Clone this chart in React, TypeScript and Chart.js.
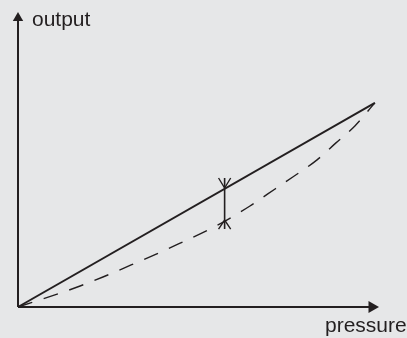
import React, { useEffect, useRef } from "react";
import { Chart, registerables } from "chart.js";
Chart.register(...registerables);

// Pressure (x) in relative units, 0..100
const pressure = [0, 11.2, 17.4, 23.8, 31.7, 38.9, 46.2, 53.8, 58.5, 65.0, 70.0, 77.0, 83.8, 89.1, 94.4, 100];
// Actual (non-linear) output, dashed curve
const actualOutput = [0, 6.4, 10.3, 14.7, 20.6, 26.0, 31.9, 38.2, 42.6, 49.5, 55.4, 63.7, 72.1, 80.4, 88.7, 100];
// Ideal (linear) output, solid line
const idealPressure = [0, 100];
const idealOutput = [0, 100];
// Deviation marker
const markerPressure = 57.9;
const markerTopTip = 63.2;
const markerTopJoin = 58.3;
const markerBottomJoin = 42.6;
const markerBottomTip = 38.2;
const forkHalfWidth = 1.7;
// Axis extents
const xAxisEnd = 99.2;
const yAxisEnd = 141.6;

const INK = "#231f20";

export default function App() {
  const ref = useRef<HTMLCanvasElement>(null);
  useEffect(() => {
    if (!ref.current) return;
    const pts = (xs: number[], ys: number[]) => xs.map((x, i) => ({ x, y: ys[i] }));
    const base = { showLine: true, pointRadius: 0, borderColor: INK, backgroundColor: INK, clip: false as any, tension: 0 };
    const chart = new Chart(ref.current, {
      type: "scatter",
      data: {
        datasets: [
          { ...base, data: [{ x: 0, y: 0 }, { x: 0, y: yAxisEnd }], borderWidth: 2 },
          { ...base, data: [{ x: 0, y: 0 }, { x: xAxisEnd, y: 0 }], borderWidth: 2 },
          { ...base, showLine: false, data: [{ x: 0, y: yAxisEnd }], pointStyle: "triangle", pointRadius: 6, pointBorderWidth: 0, pointRotation: 0 },
          { ...base, showLine: false, data: [{ x: xAxisEnd, y: 0 }], pointStyle: "triangle", pointRadius: 7, pointBorderWidth: 0, pointRotation: 90 },
          { ...base, data: pts(idealPressure, idealOutput), borderWidth: 2 },
          { ...base, data: pts(pressure, actualOutput), borderWidth: 1.4, borderDash: [15, 12], cubicInterpolationMode: "monotone" as any },
          { ...base, data: [{ x: markerPressure, y: markerTopTip }, { x: markerPressure, y: markerBottomTip }], borderWidth: 1.6 },
          { ...base, data: [
            { x: markerPressure - forkHalfWidth, y: markerTopTip },
            { x: markerPressure, y: markerTopJoin },
            { x: markerPressure + forkHalfWidth, y: markerTopTip },
          ], borderWidth: 1.4 },
          { ...base, data: [
            { x: markerPressure - forkHalfWidth, y: markerBottomTip },
            { x: markerPressure, y: markerBottomJoin },
            { x: markerPressure + forkHalfWidth, y: markerBottomTip },
          ], borderWidth: 1.4 },
        ],
      },
      options: {
        animation: false,
        responsive: false,
        events: [],
        layout: { padding: { left: 18, right: 25, top: 9, bottom: 31 } },
        plugins: { legend: { display: false }, tooltip: { enabled: false } },
        scales: {
          x: { type: "linear", min: 0, max: 102, display: false },
          y: { type: "linear", min: 0, max: 146, display: false },
        },
      },
    });
    return () => chart.destroy();
  }, []);

  const label: React.CSSProperties = {
    position: "absolute",
    fontFamily: '"Liberation Sans", Arial, sans-serif',
    fontSize: 21,
    lineHeight: "21px",
    color: INK,
    whiteSpace: "nowrap",
  };

  return (
    <div style={{ position: "fixed", left: 0, top: 0, width: 407, height: 338, background: "#e6e7e8", overflow: "hidden" }}>
      <canvas ref={ref} width={407} height={338} style={{ position: "absolute", left: 0, top: 0, width: 407, height: 338 }} />
      <div style={{ ...label, left: 32, top: 8 }}>output</div>
      <div style={{ ...label, left: 325, top: 314 }}>pressure</div>
    </div>
  );
}
